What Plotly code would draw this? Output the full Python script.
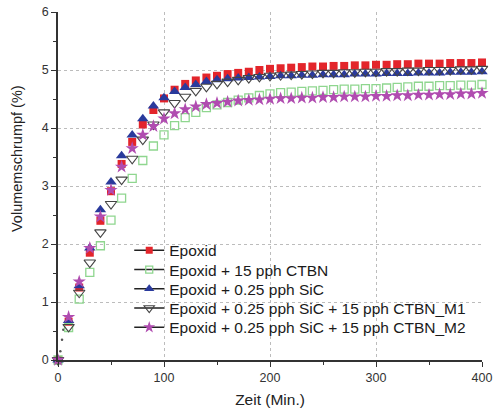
import plotly.graph_objects as go

# ---- data ----
zeit = list(range(0, 401, 10))

epoxid = [0, 0.66, 1.25, 1.85, 2.40, 2.91, 3.38, 3.76, 4.06, 4.31, 4.51, 4.66, 4.76, 4.82, 4.87, 4.90,
          4.93, 4.95, 4.97, 5.00, 5.02, 5.03, 5.04, 5.05, 5.06, 5.06, 5.07, 5.07, 5.08, 5.08, 5.09,
          5.09, 5.10, 5.10, 5.11, 5.11, 5.11, 5.12, 5.12, 5.12, 5.13]
ctbn = [0, 0.56, 1.05, 1.51, 1.97, 2.41, 2.79, 3.13, 3.44, 3.69, 3.88, 4.04, 4.18, 4.27, 4.35, 4.40,
        4.44, 4.48, 4.52, 4.56, 4.59, 4.61, 4.62, 4.63, 4.64, 4.65, 4.66, 4.67, 4.67, 4.68, 4.68,
        4.69, 4.70, 4.71, 4.72, 4.72, 4.73, 4.73, 4.74, 4.74, 4.75]
sic = [0, 0.68, 1.28, 1.93, 2.59, 3.07, 3.52, 3.88, 4.16, 4.38, 4.52, 4.63, 4.70, 4.75, 4.80, 4.83,
       4.85, 4.86, 4.87, 4.88, 4.89, 4.90, 4.90, 4.91, 4.91, 4.92, 4.92, 4.92, 4.93, 4.93, 4.93,
       4.94, 4.94, 4.94, 4.95, 4.95, 4.95, 4.96, 4.96, 4.96, 4.97]
m1 = [0, 0.57, 1.16, 1.68, 2.20, 2.69, 3.11, 3.47, 3.80, 4.06, 4.27, 4.43, 4.54, 4.64, 4.71, 4.76,
      4.80, 4.83, 4.86, 4.88, 4.90, 4.91, 4.92, 4.93, 4.94, 4.95, 4.95, 4.96, 4.96, 4.97, 4.97,
      4.98, 4.98, 4.99, 4.99, 5.00, 5.00, 5.00, 5.01, 5.01, 5.02]
m2 = [0, 0.74, 1.35, 1.93, 2.47, 2.93, 3.33, 3.65, 3.88, 4.03, 4.16, 4.25, 4.32, 4.37, 4.41, 4.43,
      4.45, 4.47, 4.48, 4.49, 4.50, 4.51, 4.51, 4.52, 4.52, 4.53, 4.53, 4.54, 4.54, 4.54, 4.55,
      4.55, 4.56, 4.56, 4.57, 4.57, 4.58, 4.58, 4.59, 4.59, 4.60]

early_t = [2.2, 3.8, 5.0]
early_v = [0.15, 0.35, 0.52]

names = ["Epoxid", "Epoxid + 15 pph CTBN", "Epoxid + 0.25 pph SiC",
         "Epoxid + 0.25 pph SiC + 15 pph CTBN_M1", "Epoxid + 0.25 pph SiC + 15 pph CTBN_M2"]
series = [epoxid, ctbn, sic, m1, m2]
x_ticks = [0, 100, 200, 300, 400]
y_ticks = [0, 1, 2, 3, 4, 5, 6]

markers = [
    dict(symbol="square", size=8, color="#e3252b", line=dict(width=0)),
    dict(symbol="square-open", size=8, color="#8fd68f", line=dict(width=1.3, color="#8fd68f")),
    dict(symbol="triangle-up", size=10, color="#2a3a9c", line=dict(width=0)),
    dict(symbol="triangle-down-open", size=10, color="#444444", line=dict(width=1.1, color="#444444")),
    dict(symbol="star", size=10, color="#b04cb0", line=dict(width=0)),
]
legend_markers = [dict(m, size=m["size"] - 1) for m in markers]

FONT = "Liberation Sans, Arial, sans-serif"

fig = go.Figure()
fig.add_trace(go.Scatter(x=early_t, y=early_v, mode="markers", showlegend=False,
                         marker=dict(size=2.5, color="#555555"), cliponaxis=False))
for s, m in zip(series, markers):
    fig.add_trace(go.Scatter(x=zeit, y=s, mode="markers", marker=m, showlegend=False,
                             cliponaxis=False))

# legend entries (line + marker), each in its own legend for tight row spacing
row_px = [250.7, 270.0, 289.2, 308.4, 327.7]
legend_layout = {}
for i, (n, m) in enumerate(zip(names, legend_markers)):
    key = "legend" if i == 0 else f"legend{i+1}"
    fig.add_trace(go.Scatter(x=[None], y=[None], mode="lines+markers", name=n,
                             marker=m, line=dict(color="#222222", width=1.5),
                             legend=key))
    legend_layout[key] = dict(
        x=0.168, xanchor="left", y=(360 - row_px[i]) / 348, yanchor="middle",
        bgcolor="rgba(0,0,0,0)", borderwidth=0,
        font=dict(family=FONT, size=15.5, color="#1a1a1a"),
        itemwidth=30,
    )

axis_common = dict(
    showline=True, linecolor="#333333", linewidth=1.5,
    ticks="outside", ticklen=5, tickwidth=1.3, tickcolor="#333333",
    showgrid=True, gridcolor="#bcbcbc", gridwidth=1, griddash="dot",
    zeroline=False, mirror=False, automargin=False,
    tickfont=dict(family=FONT, size=12.5, color="#333333"),
)

fig.update_layout(
    width=493, height=411,
    margin=dict(l=58, r=11, t=12, b=51),
    paper_bgcolor="white", plot_bgcolor="white",
    font=dict(family=FONT, color="#222222"),
    xaxis=dict(range=[0, 400], tickvals=x_ticks,
               minor=dict(dtick=50, ticks="outside", ticklen=3, tickcolor="#333333", showgrid=False),
               title=dict(text="Zeit (Min.)", font=dict(family=FONT, size=15.5, color="#222222"),
                          standoff=10),
               **axis_common),
    yaxis=dict(range=[0, 6], tickvals=y_ticks,
               minor=dict(dtick=0.5, ticks="outside", ticklen=3, tickcolor="#333333", showgrid=False),
               **axis_common),
    annotations=[dict(text="Volumemschrumpf (%)", textangle=-90, xref="paper", yref="paper",
                      x=-41 / 424, y=(360 - 159) / 348, xanchor="center", yanchor="middle",
                      showarrow=False, font=dict(family=FONT, size=14.5, color="#222222"))],
    **legend_layout,
)

fig.write_html("out.html", config={"displayModeBar": False},
               post_script="document.body.style.margin='0';document.body.style.overflow='hidden';")
